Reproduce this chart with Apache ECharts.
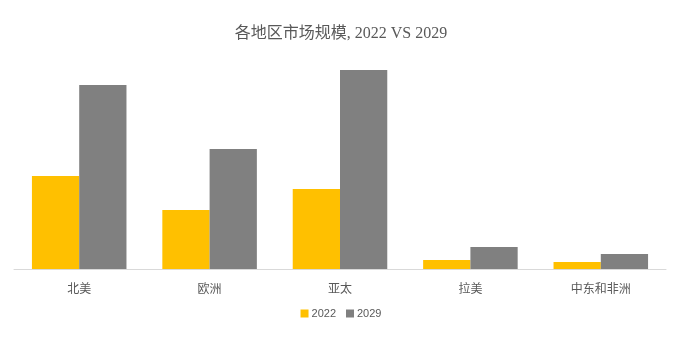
<!DOCTYPE html>
<html><head><meta charset="utf-8">
<script src="https://cdn.jsdelivr.net/npm/echarts@6/dist/echarts.min.js"></script>
<style>html,body{margin:0;padding:0;background:#fff}#c{width:682px;height:340px}</style>
</head><body><div id="c"></div>
<script>
const categories = ['北美', '欧洲', '亚太', '拉美', '中东和非洲'];
const values2022 = [93, 59, 80, 9, 7];
const values2029 = [184, 120, 199, 22, 15];
const seriesNames = ['2022', '2029'];

const chart = echarts.init(document.getElementById('c'));
chart.setOption({
  animation: false,
  backgroundColor: '#fff',
  title: {
    text: '各地区市场规模, 2022 VS 2029',
    left: 'center', top: 21,
    textStyle: { fontFamily: '"Liberation Serif","Noto Sans CJK SC",serif', fontSize: 16, fontWeight: 'normal', color: '#595959' }
  },
  legend: {
    bottom: 16, left: 'center',
    itemWidth: 8, itemHeight: 8, itemGap: 10,
    icon: 'rect',
    textStyle: { fontFamily: '"Liberation Sans Narrow","Liberation Sans","Noto Sans CJK SC",sans-serif', fontSize: 11, color: '#595959', padding: [0,0,0,-2] }
  },
  grid: { left: 14, right: 16, top: 55, bottom: 71 },
  xAxis: {
    type: 'category', data: categories,
    axisLine: { lineStyle: { color: '#d9d9d9', width: 1 } },
    axisTick: { show: false },
    axisLabel: { margin: 13, fontFamily: '"Noto Sans CJK SC",sans-serif', fontSize: 12, color: '#595959' }
  },
  yAxis: { type: 'value', min: 0, max: 214, show: false, splitLine: { show: false } },
  series: [
    { name: seriesNames[0], type: 'bar', data: values2022, barGap: '0%', barCategoryGap: '27.5%', itemStyle: { color: '#FFC000' } },
    { name: seriesNames[1], type: 'bar', data: values2029, barGap: '0%', barCategoryGap: '27.5%', itemStyle: { color: '#808080' } }
  ]
});
</script></body></html>
